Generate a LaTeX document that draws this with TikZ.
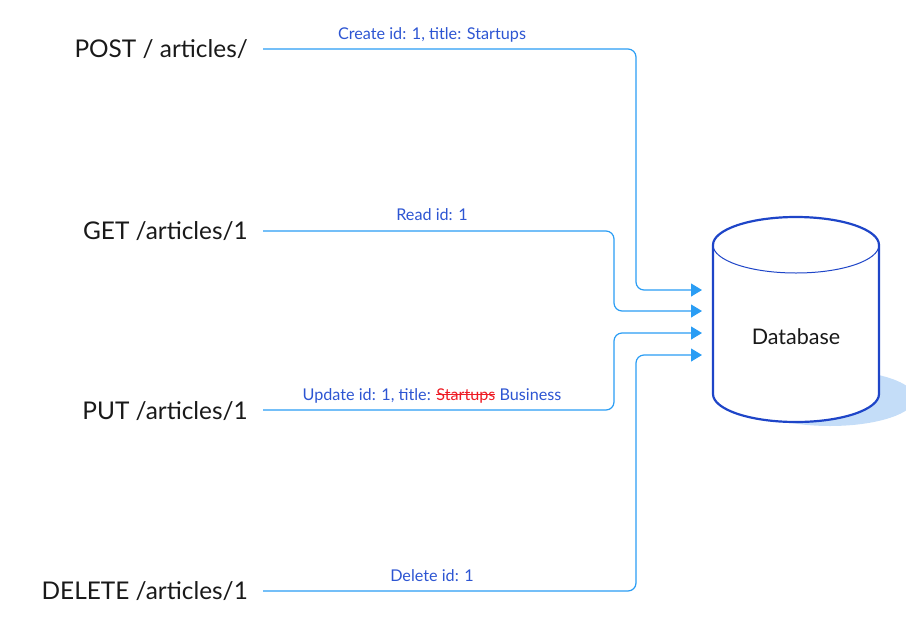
\documentclass[tikz,border=0pt]{standalone}
\usepackage{fontspec}
\setmainfont{Lato}
\usetikzlibrary{arrows.meta}
\definecolor{wire}{HTML}{2A9DF4}
\definecolor{lbl}{HTML}{2D55D2}
\definecolor{dbline}{HTML}{1E45C8}
\definecolor{dbshadow}{HTML}{C4DDF8}
\definecolor{struck}{HTML}{EE1C25}
% a word with a line drawn through it
\newcommand\strikeword[1]{\setbox0\hbox{#1}\rlap{\raisebox{0.3em}{\rule{\wd0}{0.7pt}}}\box0}
\begin{document}
\begin{tikzpicture}[x=1pt,y=-1pt,
  route/.style={draw=wire, line width=1.2pt, rounded corners=8pt,
    -{Triangle[length=11pt,width=13pt]}},
  endpoint/.style={font=\fontsize{24.4}{29}\selectfont, text=black!90, anchor=base east, inner sep=0pt},
  msg/.style={font=\fontsize{16.2}{19}\selectfont, text=lbl, anchor=base, inner sep=0pt}]
\useasboundingbox (0,0) rectangle (906,630);

% database cylinder with its soft shadow
\fill[dbshadow] (830,398) ellipse [x radius=85pt, y radius=28pt];
\filldraw[fill=white, draw=dbline, line width=2.2pt]
  (713,245) -- (713,394) arc (180:360:83pt and 28pt) -- (879,245)
  arc (0:180:83pt and 28pt) -- cycle;
\draw[dbline, line width=1pt] (713,245) arc (180:360:83pt and 28pt);
\node[font=\fontsize{21.5}{26}\selectfont, text=black!90] (db) at (796,337) {Database};

% request endpoints
\node[endpoint] (post) at (248,57) {POST / articles/};
\node[endpoint] (get) at (248,239) {GET /articles/1};
\node[endpoint] (put) at (248,419) {PUT /articles/1};
\node[endpoint] (del) at (248,599) {DELETE /articles/1};

% wire start points, bend columns and arrow targets
\coordinate (sPost) at (263,49);
\coordinate (sGet) at (263,231);
\coordinate (sPut) at (263,410);
\coordinate (sDel) at (263,591);
\coordinate (outer) at (636,0);
\coordinate (inner) at (614,0);
\coordinate (tPost) at (702,290);
\coordinate (tGet) at (702,311);
\coordinate (tPut) at (702,333);
\coordinate (tDel) at (702,355);

\draw[route] (sPost) -| (outer |- tPost) -- (tPost);
\draw[route] (sGet) -| (inner |- tGet) -- (tGet);
\draw[route] (sPut) -| (inner |- tPut) -- (tPut);
\draw[route] (sDel) -| (outer |- tDel) -- (tDel);

% operation labels
\node[msg] (mPost) at (432,39) {Create id: 1, title: Startups};
\node[msg] (mGet) at (432,220) {Read id: 1};
\node[msg] (mPut) at (432,400) {Update id: 1, title: {\color{struck}\strikeword{Startups}} Business};
\node[msg] (mDel) at (432,581) {Delete id: 1};
\end{tikzpicture}
\end{document}
